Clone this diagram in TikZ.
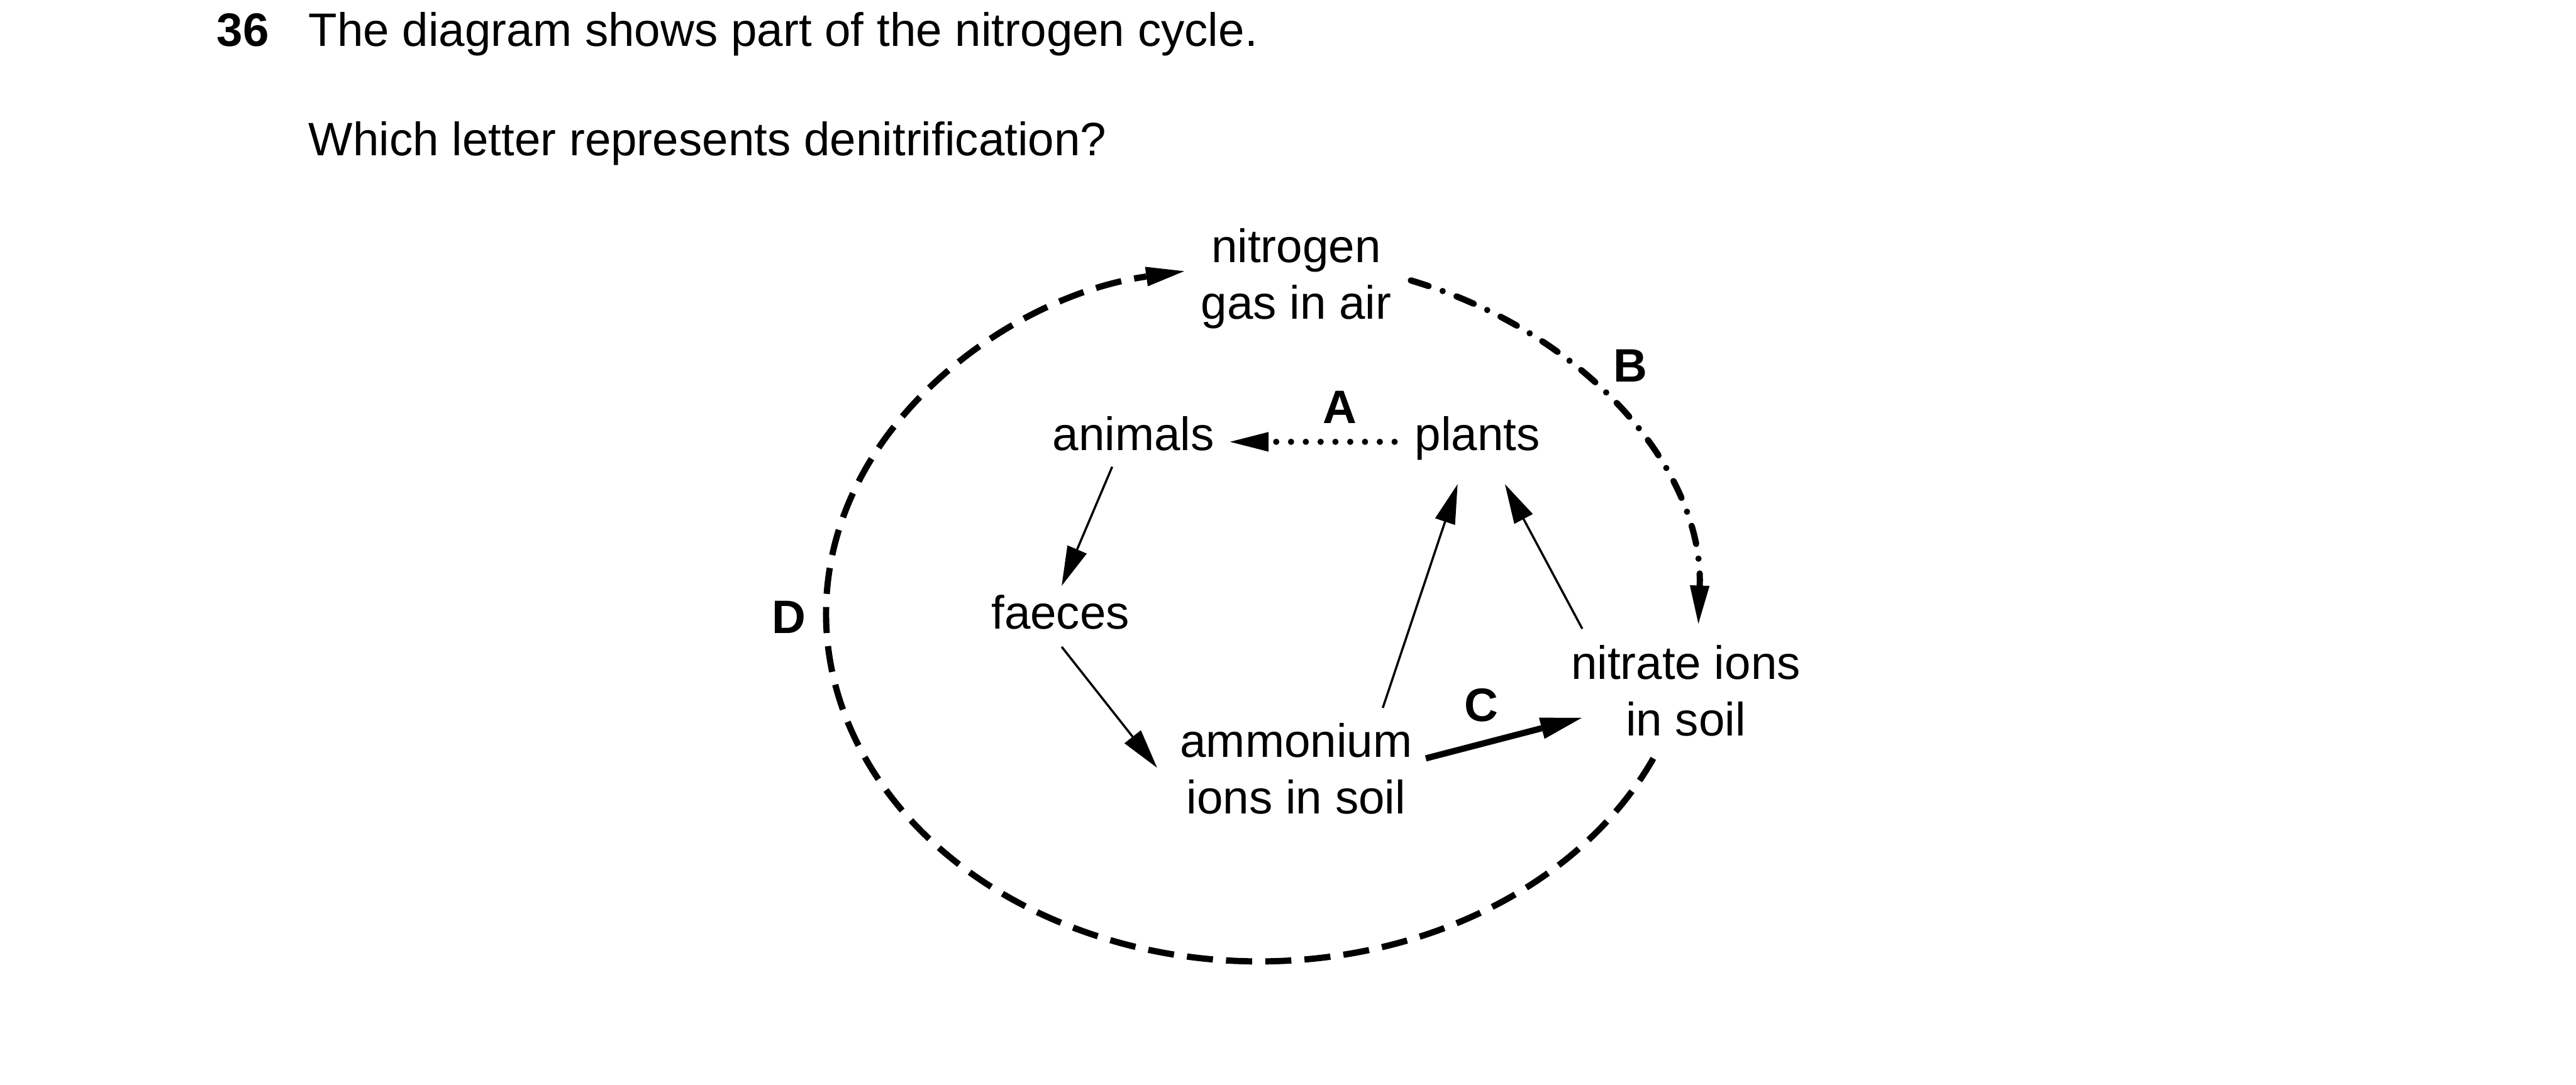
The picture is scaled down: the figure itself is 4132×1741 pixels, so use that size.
\documentclass[tikz,border=0pt]{standalone}
\usepackage{fontspec}
\setmainfont{Liberation Sans}
\usetikzlibrary{arrows.meta}
\begin{document}
\begin{tikzpicture}[x=0.01cm, y=-0.01cm,
  txt/.style={inner sep=0pt, outer sep=0pt, font=\fontsize{21.4pt}{25.9pt}\selectfont, anchor=base},
  two/.style={txt, align=center},
  lbl/.style={inner sep=0pt, outer sep=0pt, font=\fontsize{21.4pt}{25.9pt}\selectfont\bfseries, anchor=base},
  tiptri/.style={-{Triangle[length=18pt,width=9.6pt,line width=0pt]}},
  thinarrow/.style={line width=1pt, tiptri},
  thickarrow/.style={line width=2.85pt, -{Triangle[length=18.8pt,width=10pt,line width=0pt]}},
  dotarrow/.style={line width=2.85pt, line cap=round, dash pattern=on 0pt off 6.75pt, -{Triangle[length=17.6pt,width=9pt,line width=0pt]}},
  dasharrow/.style={line width=2.85pt, dash pattern=on 11.9pt off 6pt, -{Triangle[length=17.4pt,width=9pt,line width=0pt]}},
  dashdotarrow/.style={line width=2.85pt, line cap=round, dash pattern=on 8.5pt off 6.8pt on 0pt off 6.8pt, -{Triangle[length=17.4pt,width=9pt,line width=0pt]}}
]
\useasboundingbox (0,0) rectangle (4132,1741);

% question text
\node[lbl, anchor=base west] (qnum) at (348,74) {36};
\node[txt, anchor=base west] (qline1) at (495,74) {The diagram shows part of the nitrogen cycle.};
\node[txt, anchor=base west] (qline2) at (495,250) {Which letter represents denitrification?};

% diagram nodes (two-line nodes: base = last line's baseline)
\node[two] (nitrogen) at (2079,512) {nitrogen\\gas in air};
\node[txt] (animals) at (1818,723) {animals};
\node[txt] (plants) at (2370,723) {plants};
\node[txt] (faeces) at (1701,1009) {faeces};
\node[two] (ammonium) at (2079,1306) {ammonium\\ions in soil};
\node[two] (nitrate) at (2704,1181) {nitrate ions\\in soil};

% letters
\node[lbl] (labA) at (2149,679) {A};
\node[lbl] (labB) at (2615,613) {B};
\node[lbl] (labC) at (2376,1158) {C};
\node[lbl] (labD) at (1265,1016) {D};

% connectors
\draw[dotarrow] ([shift={(-133,-14)}]plants.base) -- ([shift={(155,-14)}]animals.base);
\draw[thinarrow] ([shift={(-34,26)}]animals.base) -- ([shift={(2,-69)}]faeces.base);
\draw[thinarrow] ([shift={(2,29)}]faeces.base) -- ([shift={(-223,-74)}]ammonium.base);
\draw[thinarrow] ([shift={(139,-170)}]ammonium.base) -- ([shift={(-32,54)}]plants.base);
\draw[thinarrow] ([shift={(-166,-172)}]nitrate.base) -- ([shift={(44,54)}]plants.base);
\draw[thickarrow] ([shift={(208,-89)}]ammonium.base) -- ([shift={(-167,-29)}]nitrate.base);

\coordinate (Bs) at ([shift={(184,-62)}]nitrogen.base);
\draw[dashdotarrow] (Bs) arc[start angle=-69.8, end angle=1.6, x radius=705, y radius=570];

\coordinate (Ds) at ([shift={(-52,36)}]nitrate.base);
\draw[dasharrow] (Ds) arc[start angle=24.6, end angle=260, x radius=695, y radius=558];
\end{tikzpicture}
\end{document}
